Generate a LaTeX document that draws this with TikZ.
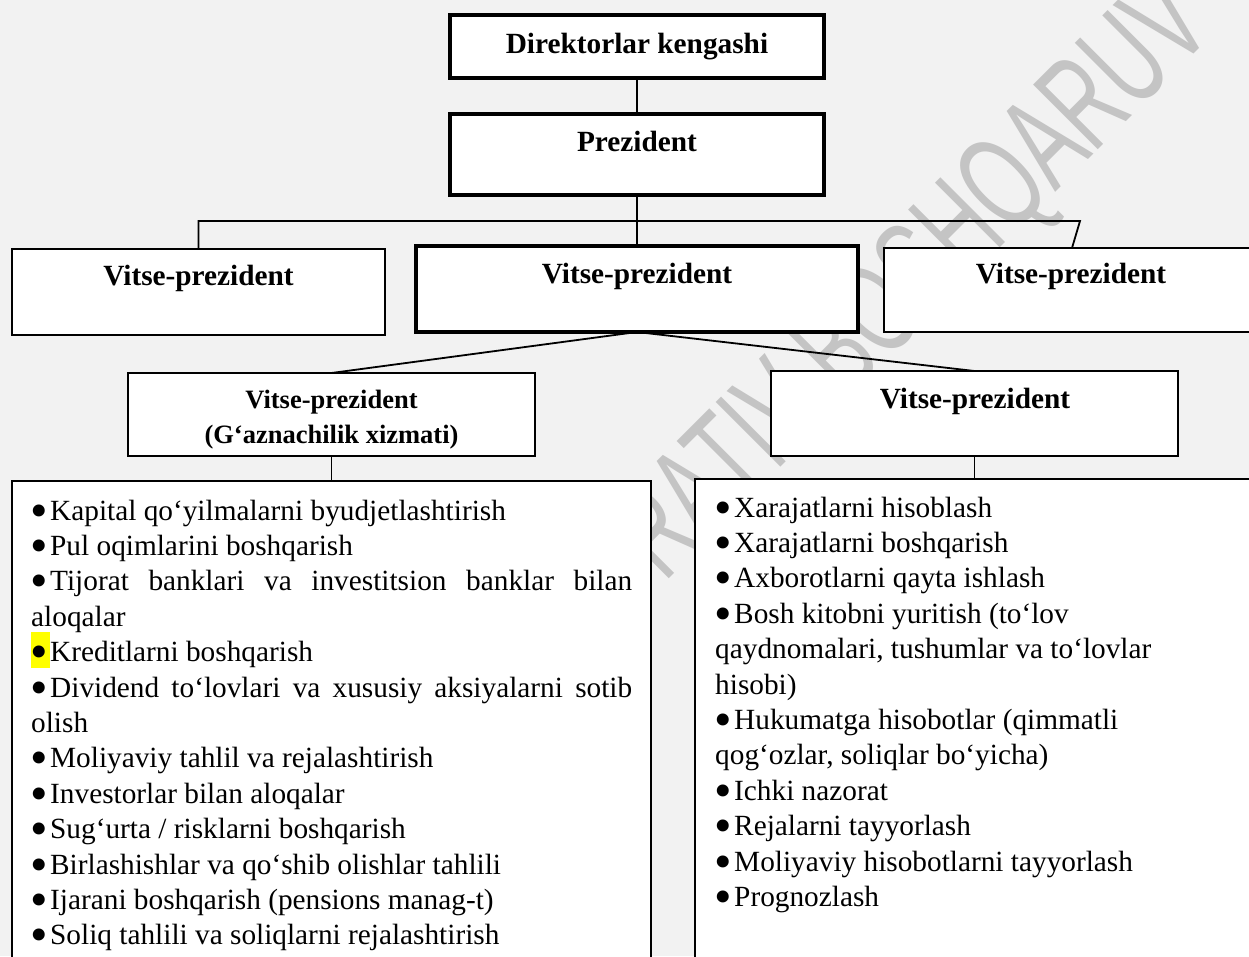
\documentclass[tikz,border=0pt]{standalone}
\usepackage{fontspec}
\setmainfont{Liberation Serif}
\newfontfamily\wmfont{Liberation Sans}
\usepackage{graphicx}

\definecolor{pagebg}{HTML}{F2F2F2}
\definecolor{wmgray}{HTML}{C4C4C4}
\definecolor{hlyellow}{HTML}{FFFF00}

% list bullet: a large round dot followed by a small gap
\newcommand{\bul}{\makebox[19pt][l]{\hspace{-1pt}\smash{\raisebox{-7pt}{\fontsize{50}{50}\selectfont •}}}}

\tikzset{
  box/.style={draw, fill=white, line width=2pt, inner sep=0pt, outer sep=0pt},
  thickbox/.style={box, line width=3.5pt},
  link/.style={line width=1.8pt},
  head/.style={font=\fontsize{29.3}{34}\selectfont\bfseries, inner sep=0pt, anchor=base},
  smallhead/.style={head, font=\fontsize{26.5}{34}\selectfont\bfseries},
  listtext/.style={anchor=base west, inner sep=0pt},
}

\begin{document}
\begin{tikzpicture}[x=1pt,y=-1pt]
\useasboundingbox (0,0) rectangle (1249,956);
\clip (0,0) rectangle (1249,956);
\fill[pagebg] (0,0) rectangle (1249,956);

% watermark lettering behind the chart
\node[rotate=45, anchor=base, text=wmgray, inner sep=0pt] (wm) at (940,308)
  {\scalebox{0.615}[1]{\wmfont\fontsize{133}{133}\selectfont RATIV BOSHQARUV}};

% boxes
\node[thickbox, line width=4pt, minimum width=374pt, minimum height=63pt] (dir) at (637,46.5) {};
\node[thickbox, minimum width=374pt, minimum height=81pt] (pres) at (637,154.5) {};
\node[box, minimum width=373pt, minimum height=86pt] (vp1) at (198.5,292) {};
\node[thickbox, minimum width=442pt, minimum height=86pt] (vp2) at (637,289) {};
\node[box, minimum width=386pt, minimum height=84pt] (vp3) at (1077,290) {};
\node[box, minimum width=407pt, minimum height=83pt] (vp4) at (331.5,414.5) {};
\node[box, minimum width=407pt, minimum height=85pt] (vp5) at (974.5,413.5) {};
\node[box, minimum width=639pt, minimum height=529pt] (list1) at (331.5,745.5) {};
\node[box, minimum width=605pt, minimum height=531pt] (list2) at (997.5,744.5) {};

% box titles
\node[head] (tdir) at (637,53) {Direktorlar kengashi};
\node[head] (tpres) at (637,151) {Prezident};
\node[head] (tvp1) at (198.5,285) {Vitse-prezident};
\node[head] (tvp2) at (637,283) {Vitse-prezident};
\node[head] (tvp3) at (1071,283) {Vitse-prezident};
\node[smallhead] (tvp4a) at (331.5,408) {Vitse-prezident};
\node[smallhead] (tvp4b) at (331.5,443) {(G‘aznachilik xizmati)};
\node[head] (tvp5) at (975,408) {Vitse-prezident};

% connectors
\coordinate (bus) at (637,221);
\coordinate (busL) at (vp1.north |- bus);
\coordinate (busR) at (1080,221);
\coordinate (vp3in) at (1072,248);
\draw[link] (dir.south) -- (pres.north);
\draw[link] (pres.south) -- (vp2.north);
\draw[link] (vp1.north) -- (busL) -- (busR) -- (vp3in);
\draw[link] (vp2.south) -- (vp4.north);
\draw[link] (vp2.south) -- (vp5.north);
\draw[link] (vp4.south) -- (list1.north);
\draw[link] (vp5.south) -- (vp5.south |- list2.north);

% highlighted bullet
\fill[hlyellow] (31,632) rectangle (50,668);

% treasury duties
\node[listtext] (items1) at (31,520) {\parbox[t]{601pt}{%
  \fontsize{29.3}{35.4}\selectfont\lineskiplimit=-100pt
  \bul Kapital qo‘yilmalarni byudjetlashtirish\\
  \bul Pul oqimlarini boshqarish\\
  \makebox[601pt][s]{\bul Tijorat banklari va investitsion banklar bilan}\\
  aloqalar\\
  \bul Kreditlarni boshqarish\\
  \makebox[601pt][s]{\bul Dividend to‘lovlari va xususiy aksiyalarni sotib}\\
  olish\\
  \bul Moliyaviy tahlil va rejalashtirish\\
  \bul Investorlar bilan aloqalar\\
  \bul Sug‘urta / risklarni boshqarish\\
  \bul Birlashishlar va qo‘shib olishlar tahlili\\
  \bul Ijarani boshqarish (pensions manag-t)\\
  \bul Soliq tahlili va soliqlarni rejalashtirish}};

% accounting duties
\node[listtext] (items2) at (715,517) {\parbox[t]{520pt}{%
  \fontsize{29.3}{35.4}\selectfont\lineskiplimit=-100pt
  \bul Xarajatlarni hisoblash\\
  \bul Xarajatlarni boshqarish\\
  \bul Axborotlarni qayta ishlash\\
  \bul Bosh kitobni yuritish (to‘lov\\
  qaydnomalari, tushumlar va to‘lovlar\\
  hisobi)\\
  \bul Hukumatga hisobotlar (qimmatli\\
  qog‘ozlar, soliqlar bo‘yicha)\\
  \bul Ichki nazorat\\
  \bul Rejalarni tayyorlash\\
  \bul Moliyaviy hisobotlarni tayyorlash\\
  \bul Prognozlash}};
\end{tikzpicture}
\end{document}
